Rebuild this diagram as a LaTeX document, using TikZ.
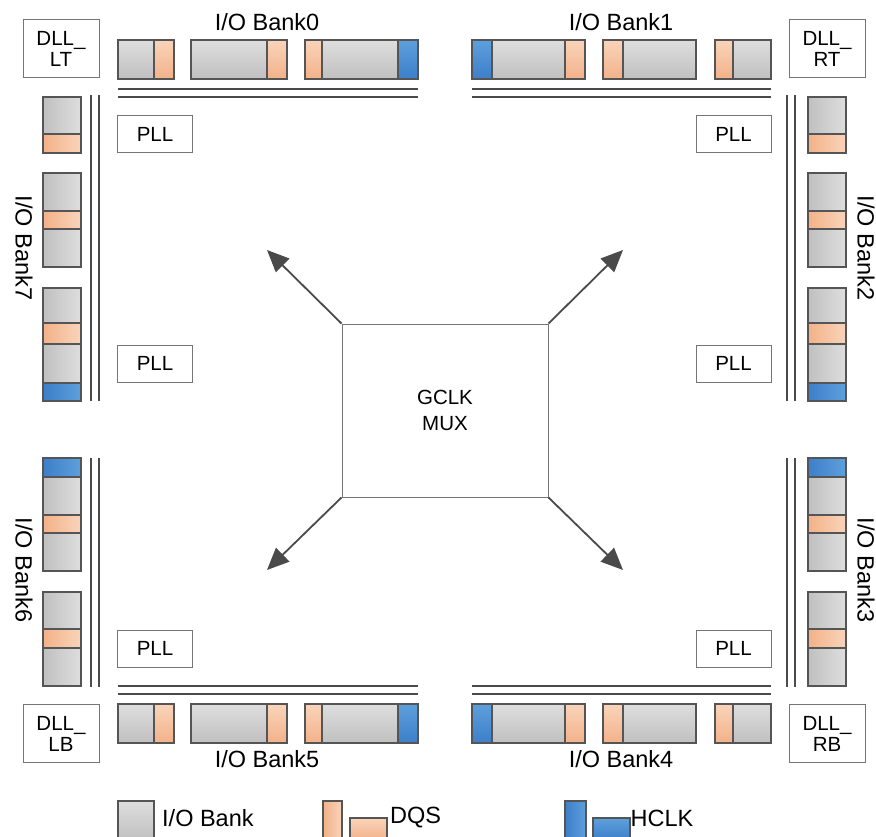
\documentclass[tikz,border=0pt]{standalone}
\usepackage{fontspec}
\setmainfont{Liberation Sans}
\usetikzlibrary{arrows.meta}

\definecolor{ioL}{HTML}{DEDEDE}
\definecolor{ioD}{HTML}{C0C0C0}
\definecolor{dqsL}{HTML}{F9D4BA}
\definecolor{dqsD}{HTML}{F3B189}
\definecolor{hclkL}{HTML}{5E9FDC}
\definecolor{hclkD}{HTML}{3D7FC9}
\definecolor{edgegray}{HTML}{555555}
\definecolor{boxgray}{HTML}{757575}
\definecolor{busgray}{HTML}{4A4A4A}

\begin{document}
\begin{tikzpicture}[x=1pt, y=-1pt, >={Triangle[length=22pt, width=19pt]}]

    %styles
    \tikzstyle{io}=[draw=edgegray, line width=1.1pt, top color=ioL, bottom color=ioD]
    \tikzstyle{dqs}=[draw=edgegray, line width=1.1pt, top color=dqsL, bottom color=dqsD]
    \tikzstyle{hclk}=[draw=edgegray, line width=1.1pt, top color=hclkL, bottom color=hclkD]
    \tikzstyle{iov}=[draw=edgegray, line width=1.1pt, left color=ioD, right color=ioL]
    \tikzstyle{dqsv}=[draw=edgegray, line width=1.1pt, left color=dqsD, right color=dqsL]
    \tikzstyle{hclkv}=[draw=edgegray, line width=1.1pt, left color=hclkD, right color=hclkL]
    \tikzstyle{bus}=[draw=busgray, line width=1.8pt]
    \tikzstyle{lbl}=[font=\fontsize{23.5}{26}\selectfont, inner sep=0pt]
    \tikzstyle{box}=[font=\fontsize{20.5}{21}\selectfont, inner sep=0pt, align=center, draw=boxgray, line width=1pt, fill=white]
    \tikzstyle{pll}=[box, minimum width=75pt, minimum height=37pt]
    \tikzstyle{dll}=[box, minimum width=76pt, minimum height=58pt]
    \tikzstyle{spread}=[->, draw=busgray, line width=1.8pt]

    \useasboundingbox[fill=white] (0,0) rectangle (876,837);

    % I/O Bank0 and Bank5
    \draw[io] (118,40) rectangle (154,79) (191,40) rectangle (267,79) (322,40) rectangle (398,79);
    \draw[dqs] (154,40) rectangle (174,79) (267,40) rectangle (287,79) (305,40) rectangle (322,79);
    \draw[hclk] (398,40) rectangle (418,79);
    \draw[io] (118,704) rectangle (154,743) (191,704) rectangle (267,743) (322,704) rectangle (398,743);
    \draw[dqs] (154,704) rectangle (174,743) (267,704) rectangle (287,743) (305,704) rectangle (322,743);
    \draw[hclk] (398,704) rectangle (418,743);
    % I/O Bank1 and Bank4
    \draw[io] (492,40) rectangle (565,79) (623,40) rectangle (696,79) (733,40) rectangle (771,79);
    \draw[dqs] (565,40) rectangle (585,79) (603,40) rectangle (623,79) (715,40) rectangle (733,79);
    \draw[hclk] (472,40) rectangle (492,79);
    \draw[io] (492,704) rectangle (565,743) (623,704) rectangle (696,743) (733,704) rectangle (771,743);
    \draw[dqs] (565,704) rectangle (585,743) (603,704) rectangle (623,743) (715,704) rectangle (733,743);
    \draw[hclk] (472,704) rectangle (492,743);
    % I/O Bank7 and Bank2
    \draw[iov] (43,97) rectangle (81,134) (43,173) rectangle (81,211) (43,229) rectangle (81,267) (43,288) rectangle (81,323) (43,344) rectangle (81,383);
    \draw[dqsv] (43,134) rectangle (81,153) (43,211) rectangle (81,229) (43,323) rectangle (81,344);
    \draw[hclkv] (43,383) rectangle (81,401);
    \draw[iov] (808,97) rectangle (846,134) (808,173) rectangle (846,211) (808,229) rectangle (846,267) (808,288) rectangle (846,323) (808,344) rectangle (846,383);
    \draw[dqsv] (808,134) rectangle (846,153) (808,211) rectangle (846,229) (808,323) rectangle (846,344);
    \draw[hclkv] (808,383) rectangle (846,401);
    % I/O Bank6 and Bank3
    \draw[iov] (43,477) rectangle (81,515) (43,533) rectangle (81,571) (43,592) rectangle (81,629) (43,648) rectangle (81,686);
    \draw[dqsv] (43,515) rectangle (81,533) (43,629) rectangle (81,648);
    \draw[hclkv] (43,458) rectangle (81,477);
    \draw[iov] (808,477) rectangle (846,515) (808,533) rectangle (846,571) (808,592) rectangle (846,629) (808,648) rectangle (846,686);
    \draw[dqsv] (808,515) rectangle (846,533) (808,629) rectangle (846,648);
    \draw[hclkv] (808,458) rectangle (846,477);

    % clock lines
    \draw[bus] (118,89) -- (418,89) (118,97) -- (418,97) (472,89) -- (771,89) (472,97) -- (771,97);
    \draw[bus] (118,686) -- (418,686) (118,694) -- (418,694) (472,686) -- (771,686) (472,694) -- (771,694);
    \draw[bus] (91,95) -- (91,401) (99,95) -- (99,401) (91,458) -- (91,687) (99,458) -- (99,687);
    \draw[bus] (787,95) -- (787,401) (795,95) -- (795,401) (787,458) -- (787,687) (795,458) -- (795,687);

    % nodes
    \node[dll] (dlllt) at (61,49) {DLL\_\\LT};
    \node[dll] (dllrt) at (827,49) {DLL\_\\RT};
    \node[dll] (dlllb) at (61,733.5) {DLL\_\\LB};
    \node[dll] (dllrb) at (827,733.5) {DLL\_\\RB};
    \node[pll] (pll1) at (155,134) {PLL};
    \node[pll] (pll2) at (155,363.5) {PLL};
    \node[pll] (pll3) at (155,648.5) {PLL};
    \node[pll] (pll4) at (733.5,134) {PLL};
    \node[pll] (pll5) at (733.5,363.5) {PLL};
    \node[pll] (pll6) at (733.5,648.5) {PLL};
    \node[box, minimum width=206pt, minimum height=173pt, font=\fontsize{20.5}{26}\selectfont] (mux) at (445,410.5) {GCLK\\MUX};
    \node[lbl] (bank0) at (267,22) {I/O Bank0};
    \node[lbl] (bank1) at (621,22) {I/O Bank1};
    \node[lbl] (bank5) at (267,759) {I/O Bank5};
    \node[lbl] (bank4) at (621,759) {I/O Bank4};
    \node[lbl, rotate=-90] (bank7) at (24,248) {I/O Bank7};
    \node[lbl, rotate=-90] (bank6) at (24,570) {I/O Bank6};
    \node[lbl, rotate=-90] (bank2) at (866,248) {I/O Bank2};
    \node[lbl, rotate=-90] (bank3) at (866,570) {I/O Bank3};

    % arrows
    \coordinate (tnw) at (267,250);
    \coordinate (tne) at (623,250);
    \coordinate (tsw) at (267,570);
    \coordinate (tse) at (623,570);
    \draw[spread] (mux.north west) -- (tnw);
    \draw[spread] (mux.north east) -- (tne);
    \draw[spread] (mux.south west) -- (tsw);
    \draw[spread] (mux.south east) -- (tse);

    % legend
    \draw[io] (118,801) rectangle (154,840);
    \draw[dqsv] (323,801) rectangle (342,840);
    \draw[dqs] (350,818) rectangle (387,840);
    \draw[hclkv] (565,801) rectangle (586,840);
    \draw[hclk] (593,818) rectangle (630,840);
    \node[lbl, anchor=west] (keyio) at (162,818) {I/O Bank};
    \node[lbl, anchor=west] (keydqs) at (390,818) {DQS};
    \node[lbl, anchor=west] (keyhclk) at (630.5,818) {HCLK};
\end{tikzpicture}
\end{document}
